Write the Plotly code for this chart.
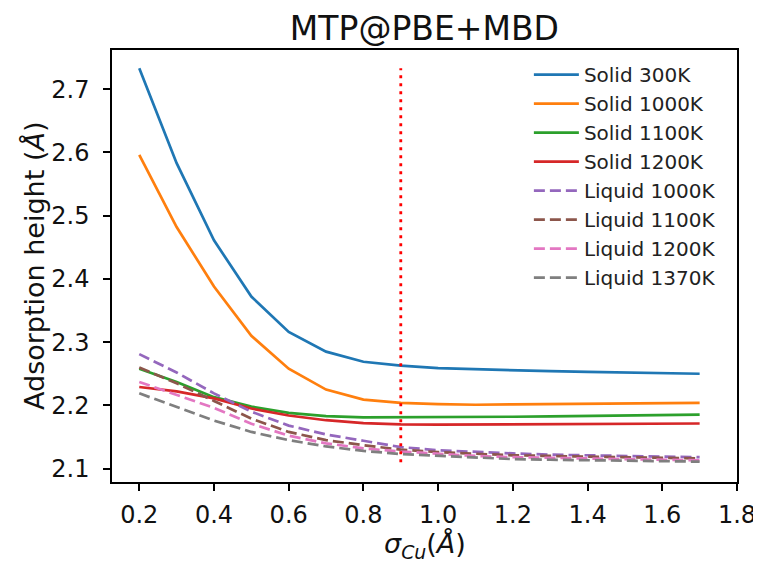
import plotly.graph_objects as go

sigma = [0.2, 0.3, 0.4, 0.5, 0.6, 0.7, 0.8, 0.9, 1.0, 1.1, 1.2, 1.3, 1.4, 1.5, 1.6, 1.7]

solid_300 = [2.733, 2.583, 2.461, 2.372, 2.316, 2.285, 2.269, 2.263, 2.259, 2.257, 2.255, 2.254, 2.253, 2.252, 2.251, 2.250]
solid_1000 = [2.596, 2.482, 2.388, 2.310, 2.258, 2.225, 2.209, 2.204, 2.202, 2.201, 2.2015, 2.202, 2.2025, 2.203, 2.2035, 2.204]
solid_1100 = [2.258, 2.237, 2.213, 2.198, 2.188, 2.183, 2.181, 2.181, 2.181, 2.1815, 2.182, 2.1825, 2.183, 2.184, 2.1848, 2.1855]
solid_1200 = [2.229, 2.222, 2.211, 2.195, 2.184, 2.1765, 2.172, 2.170, 2.1695, 2.1697, 2.170, 2.1703, 2.1706, 2.1709, 2.1711, 2.1713]
liquid_1000 = [2.281, 2.252, 2.219, 2.190, 2.168, 2.154, 2.144, 2.134, 2.129, 2.126, 2.124, 2.122, 2.121, 2.120, 2.119, 2.118]
liquid_1100 = [2.260, 2.235, 2.207, 2.179, 2.158, 2.145, 2.137, 2.130, 2.126, 2.123, 2.121, 2.120, 2.119, 2.118, 2.117, 2.116]
liquid_1200 = [2.237, 2.217, 2.196, 2.171, 2.152, 2.140, 2.132, 2.127, 2.123, 2.120, 2.118, 2.117, 2.116, 2.115, 2.114, 2.113]
liquid_1370 = [2.219, 2.198, 2.176, 2.158, 2.145, 2.135, 2.128, 2.123, 2.120, 2.117, 2.115, 2.114, 2.113, 2.112, 2.1115, 2.111]

series_names = ["Solid 300K", "Solid 1000K", "Solid 1100K", "Solid 1200K",
                "Liquid 1000K", "Liquid 1100K", "Liquid 1200K", "Liquid 1370K"]
series_values = [solid_300, solid_1000, solid_1100, solid_1200,
                 liquid_1000, liquid_1100, liquid_1200, liquid_1370]
colors = ["#1f77b4", "#ff7f0e", "#2ca02c", "#d62728",
          "#9467bd", "#8c564b", "#e377c2", "#7f7f7f"]

vline_x = [0.9, 0.9]
vline_y = [2.11, 2.733]

x_ticks = [0.2, 0.4, 0.6, 0.8, 1.0, 1.2, 1.4, 1.6, 1.8]
y_ticks = [2.1, 2.2, 2.3, 2.4, 2.5, 2.6, 2.7]

title_text = "MTP@PBE+MBD"
x_title = "<i>σ</i><sub><i>Cu</i></sub>(<i>Å</i>)"
y_title = "Adsorption height (<i>Å</i>)"

fig = go.Figure()
for name, vals, col in zip(series_names, series_values, colors):
    dash = "solid" if name.startswith("Solid") else "11px,5px"
    fig.add_trace(go.Scatter(x=sigma, y=vals, mode="lines", name=name,
                             line=dict(color=col, width=2.7, dash=dash)))

fig.add_trace(go.Scatter(x=vline_x, y=vline_y, mode="lines", showlegend=False,
                         line=dict(color="red", width=2.8, dash="3px,5px")))

font_family = "DejaVu Sans"
axis_common = dict(showline=True, linecolor="black", linewidth=1.5, mirror=True,
                   ticks="outside", ticklen=7, tickcolor="black", tickwidth=1.5,
                   showgrid=False, zeroline=False, automargin=False,
                   tickfont=dict(family=font_family, size=24, color="#111"))

# page body adds an 8px offset, so the figure is 753x555
fig.update_layout(
    width=753, height=555,
    margin=dict(l=104, r=24, t=42, b=81),
    paper_bgcolor="white", plot_bgcolor="white",
    font=dict(family=font_family, color="#111"),
    showlegend=True,
    title=dict(text=title_text, x=0.553, xanchor="center",
               y=1 - 20 / 555, yanchor="middle", yref="container",
               font=dict(family=font_family, size=33, color="#111")),
    xaxis=dict(range=[0.127, 1.8], tickvals=x_ticks, tickformat=".1f",
               ticklabelstandoff=3, **axis_common),
    yaxis=dict(range=[2.0788, 2.762], tickvals=y_ticks, tickformat=".1f",
               ticklabelstandoff=9, **axis_common),
    legend=dict(x=0.667, y=0.988, xanchor="left", yanchor="top",
                bgcolor="rgba(0,0,0,0)", itemwidth=45, tracegroupgap=0,
                font=dict(family=font_family, size=20, color="#222")),
    annotations=[
        dict(text=x_title, xref="paper", yref="paper", x=0.5, y=-0.146,
             xanchor="center", yanchor="middle", showarrow=False,
             font=dict(family=font_family, size=27, color="#111")),
        dict(text=y_title, xref="paper", yref="paper", x=-0.1248, y=0.5,
             xanchor="center", yanchor="middle", showarrow=False, textangle=-90,
             font=dict(family=font_family, size=27, color="#111")),
    ],
)

fig.write_html("out.html")
